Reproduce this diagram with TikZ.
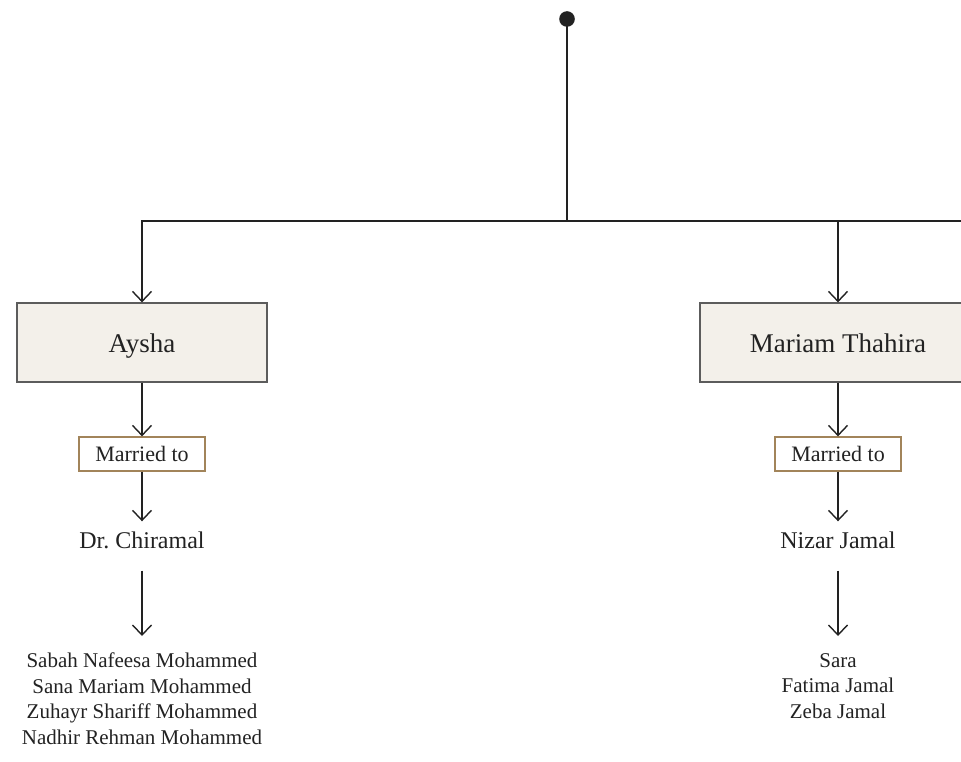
\documentclass[tikz,border=0pt]{standalone}
\usepackage{fontspec}
\setmainfont{Liberation Serif}
\usetikzlibrary{arrows.meta,positioning}
\definecolor{Ink}{HTML}{222222}
\definecolor{Card}{HTML}{F3F0EA}
\definecolor{CardLine}{HTML}{5C5C5C}
\definecolor{Tan}{HTML}{A2845A}

\begin{document}
\begin{tikzpicture}[x=1pt,y=-1pt,line width=1.4pt,color=Ink,
  link/.style={-{Straight Barb[length=10pt,width=19pt]}},
  person/.style={draw=CardLine,fill=Card,line width=1.2pt,minimum height=79pt,
    text=Ink,font=\fontsize{27}{32}\selectfont,text height=19pt,text depth=0pt},
  wed/.style={draw=Tan,fill=white,line width=1.2pt,minimum width=126pt,minimum height=34pt,
    text=Ink,font=\fontsize{22}{26}\selectfont,text height=15pt,text depth=0pt},
  spouse/.style={text=Ink,font=\fontsize{24}{28}\selectfont,
    text height=18pt,text depth=6pt,inner ysep=8pt},
  kids/.style={text=Ink,font=\fontsize{21}{25.5}\selectfont,align=center,
    anchor=north,inner xsep=0pt,inner ysep=16.5pt}]
  \useasboundingbox (0,0) rectangle (961,762);
  \clip (0,0) rectangle (961,762);

  % root of the branch
  \fill (567,19) circle (7.8pt);
  \coordinate (root) at (567,19);
  \coordinate (fork) at (567,221);
  \coordinate (rend) at (961,221);
  \coordinate (mfork) at (838,221);

  % daughters
  \node[person,minimum width=250pt] (aysha) at (142,342.5) {Aysha};
  \node[person,minimum width=276pt] (mariam) at (838,342.5) {Mariam Thahira};

  \node[wed] (awed) at (142,454) {Married to};
  \node[wed] (mwed) at (838,454) {Married to};

  \node[spouse] (asp) at (142,542) {Dr.\ Chiramal};
  \node[spouse] (msp) at (838,542) {Nizar Jamal};

  \node[kids] (akids) at (142,636) {Sabah Nafeesa Mohammed\\Sana Mariam Mohammed\\
    Zuhayr Shariff Mohammed\\Nadhir Rehman Mohammed};
  \node[kids] (mkids) at (838,636) {Sara\\Fatima Jamal\\Zeba Jamal};

  % connectors
  \draw (root) -- (fork);
  \draw[link] (rend) -| (aysha.north);
  \draw[link] (mfork) -- (mariam.north);
  \draw[link] (aysha) -- (awed);
  \draw[link] (mariam) -- (mwed);
  \draw[link] (awed) -- (asp);
  \draw[link] (mwed) -- (msp);
  \draw[link,shorten <=8pt] (asp) -- (akids);
  \draw[link,shorten <=8pt] (msp) -- (mkids);
\end{tikzpicture}
\end{document}
